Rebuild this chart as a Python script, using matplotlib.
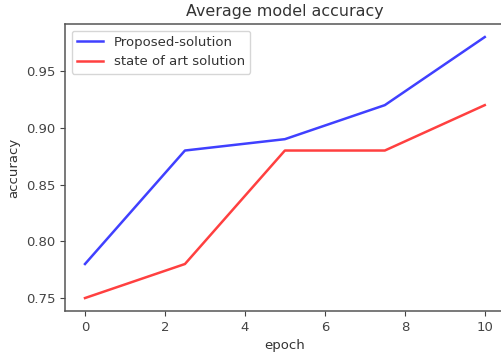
import matplotlib
matplotlib.use("Agg")
import matplotlib.pyplot as plt

epochs = [0, 2.5, 5, 7.5, 10]
proposed = [0.78, 0.88, 0.89, 0.92, 0.98]
state_of_art = [0.75, 0.78, 0.88, 0.88, 0.92]

plt.rcParams["font.size"] = 9.5
plt.rcParams["text.color"] = "#333333"
plt.rcParams["axes.labelcolor"] = "#333333"
plt.rcParams["xtick.color"] = "#444444"
plt.rcParams["ytick.color"] = "#444444"

fig = plt.figure(figsize=(5.02, 3.58), dpi=100)
ax = fig.add_axes([0.1295, 0.131, 0.876, 0.802])
ax.plot(epochs, proposed, color="blue", alpha=0.75, linewidth=1.8, label="Proposed-solution")
ax.plot(epochs, state_of_art, color="red", alpha=0.75, linewidth=1.8, label="state of art solution")
ax.set_title("Average model accuracy", fontsize=11.4)
ax.set_xlabel("epoch")
ax.set_ylabel("accuracy")
for s in ax.spines.values():
    s.set_color("#555555")
    s.set_linewidth(1.1)
# the right edge of the frame falls at the border of the canvas
ax.spines["right"].set_visible(False)
ax.legend(loc="upper left")
fig.savefig("out.png", dpi=100)
